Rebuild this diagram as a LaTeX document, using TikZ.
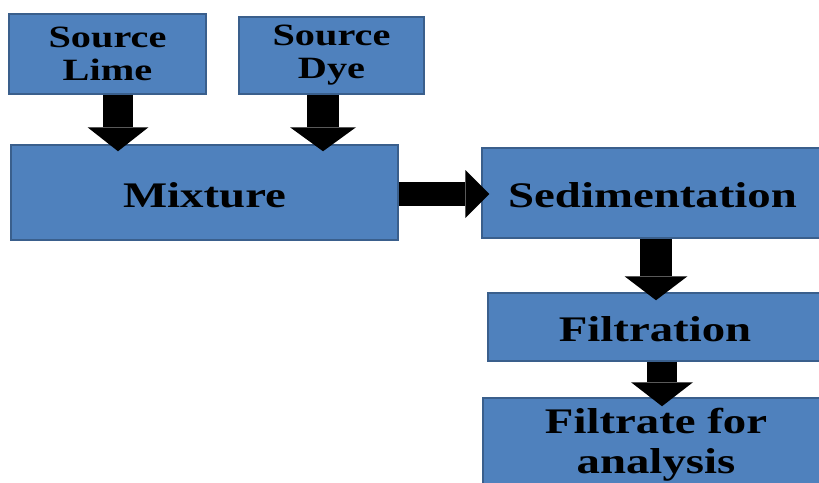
\documentclass[tikz,border=0pt]{standalone}
\usepackage{fontspec}
\newfontfamily\stepfont{Liberation Serif}[FakeStretch=1.3]
\usetikzlibrary{arrows.meta,calc}
\definecolor{boxblue}{HTML}{4F81BD}
\definecolor{boxedge}{HTML}{3A5F8C}
\tikzset{
    stepbox/.style={draw=boxedge, line width=1.5pt, fill=boxblue, inner sep=0pt, align=center,
        font=\stepfont\bfseries\fontsize{36}{40}\selectfont},
    onebox/.style={stepbox, text height=29pt, text depth=0pt},
    srcbox/.style={stepbox, font=\stepfont\bfseries\fontsize{31}{33}\selectfont},
    blockarrow/.style 2 args={line width=#1, -{Triangle[width=#2, length=24pt, line width=0pt]}}
}
\begin{document}
\begin{tikzpicture}[x=1pt, y=-1pt]
        \useasboundingbox (0,0) rectangle (819,482);
        \clip (0,0) rectangle (819,482);
        \node[srcbox, minimum width=197pt, minimum height=80pt] (lime) at (107.5, 54) {Source\\Lime};
        \node[srcbox, minimum width=185pt, minimum height=77pt] (dye) at (331.5, 55.5) {Source\\Dye};
        \node[onebox, minimum width=387pt, minimum height=95pt] (mix) at (204.5, 192.5) {Mixture};
        \node[onebox, minimum width=341pt, minimum height=90pt] (sed) at (652.5, 193) {Sedimentation};
        \node[onebox, minimum width=334pt, minimum height=68pt] (filt) at (655, 327) {Filtration};
        \node[stepbox, minimum width=346pt, minimum height=94pt] (ana) at (656, 445) {Filtrate for\\analysis};
        \draw[blockarrow={30pt}{61pt}, shorten >=-7pt] ([xshift=10.5pt]lime.south) -- ([xshift=10.5pt]lime.south |- mix.north);
        \draw[blockarrow={32pt}{66pt}, shorten >=-7pt] ([xshift=-8.5pt]dye.south) -- ([xshift=-8.5pt]dye.south |- mix.north);
        \draw[blockarrow={24pt}{48pt}, shorten >=-8pt] ([yshift=-1.5pt]mix.east) -- ([yshift=-1.5pt]mix.east -| sed.west);
        \draw[blockarrow={32pt}{63pt}, shorten >=-8pt] ([xshift=3.5pt]sed.south) -- ([xshift=3.5pt]sed.south |- filt.north);
        \draw[blockarrow={30pt}{62pt}, shorten >=-9pt] ([xshift=7pt]filt.south) -- ([xshift=7pt]filt.south |- ana.north);
\end{tikzpicture}
\end{document}
